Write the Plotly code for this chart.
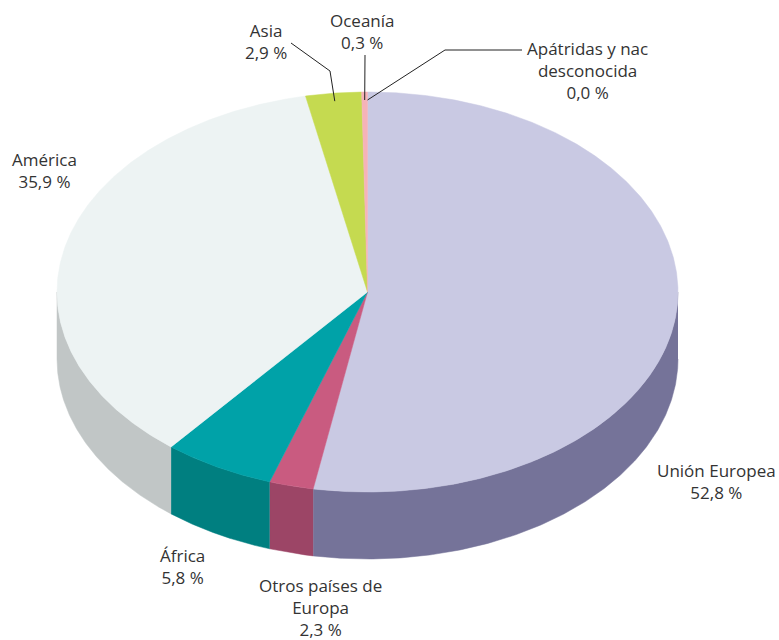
import numpy as np
import plotly.graph_objects as go

# ---- data ----
categories = ["Unión Europea", "Otros países de Europa", "África", "América", "Asia", "Oceanía", "Apátridas y nac desconocida"]
shares = [52.8, 2.3, 5.8, 35.9, 2.9, 0.3, 0.0]
label_texts = ["Unión Europea<br>52,8 %", "Otros países de<br>Europa<br>2,3 %", "África<br>5,8 %",
               "América<br>35,9 %", "Asia<br>2,9 %", "Oceanía<br>0,3 %", "Apátridas y nac<br>desconocida<br>0,0 %"]

# ---- style ----
top_colors = ["#c9c9e3", "#c95b80", "#00a2a8", "#edf3f3", "#c5da50", "#f5b3b8", "#f5b3b8"]
side_colors = ["#757399", "#9c4566", "#007f80", "#c1c6c6", "#9fb040", "#c48f94", "#c48f94"]
CX, CY, RX, RY, DEPTH = 367.5, 292.0, 310.5, 200.0, 67.0
W, H = 779, 640
FONT = dict(family="Open Sans, Lato, sans-serif", size=17, color="#333333")

# label centres (layout) and leader elbows
label_pos = [(716, 481), (320, 607), (182, 566), (44, 170), (266, 41), (362, 31), (587, 70)]
leaders = {4: [(330, 71), (291, 43)], 5: [(365, 55)], 6: [(445, 50), (522, 50)]}

def pt(theta_deg, dy=0.0):
    t = np.radians(theta_deg)
    return CX + RX * np.sin(t), CY - RY * np.cos(t) + dy

fig = go.Figure()
total = sum(shares)
bounds = np.concatenate([[0], np.cumsum(shares)]) / total * 360.0

# side walls (front half: 90..270 deg)
for i in range(len(shares)):
    a, b = bounds[i], bounds[i + 1]
    lo, hi = max(a, 90), min(b, 270)
    if hi <= lo:
        continue
    th = np.linspace(lo, hi, 200)
    xt, yt = pt(th)
    xb, yb = pt(th[::-1], DEPTH)
    fig.add_trace(go.Scatter(x=np.concatenate([xt, xb]), y=np.concatenate([yt, yb]),
                             fill="toself", fillcolor=side_colors[i], mode="lines",
                             line=dict(width=0.5, color=side_colors[i]), hoverinfo="skip", showlegend=False))

# top faces
for i in range(len(shares)):
    a, b = bounds[i], bounds[i + 1]
    if b - a <= 0:
        continue
    th = np.linspace(a, b, max(3, int((b - a) * 3)))
    xs, ys = pt(th)
    fig.add_trace(go.Scatter(x=np.concatenate([[CX], xs, [CX]]), y=np.concatenate([[CY], ys, [CY]]),
                             fill="toself", fillcolor=top_colors[i], mode="lines",
                             line=dict(width=0.5, color=top_colors[i]), hoverinfo="skip",
                             name=categories[i], showlegend=False))

# leader lines from slice mid-points on the rim
for i, elbows in leaders.items():
    mid = (bounds[i] + bounds[i + 1]) / 2
    x0, y0 = pt(mid)
    r = 0.96
    x0 = CX + (x0 - CX) * r
    y0 = CY + (y0 - CY) * r
    xs = [x0] + [e[0] for e in elbows]
    ys = [y0] + [e[1] for e in elbows]
    fig.add_trace(go.Scatter(x=xs, y=ys, mode="lines", line=dict(color="#222222", width=1),
                             hoverinfo="skip", showlegend=False))

for i, txt in enumerate(label_texts):
    x, y = label_pos[i]
    fig.add_annotation(x=x, y=y, text=txt, showarrow=False, font=FONT, align="center",
                       xanchor="center", yanchor="middle")

fig.update_layout(width=W, height=H, margin=dict(l=0, r=0, t=0, b=0),
                  paper_bgcolor="white", plot_bgcolor="white",
                  xaxis=dict(range=[0, W], visible=False, fixedrange=True),
                  yaxis=dict(range=[H, 0], visible=False, fixedrange=True))
fig.write_html("out.html", config={"displayModeBar": False},
               post_script="document.body.style.margin='0';document.body.style.overflow='hidden';")
